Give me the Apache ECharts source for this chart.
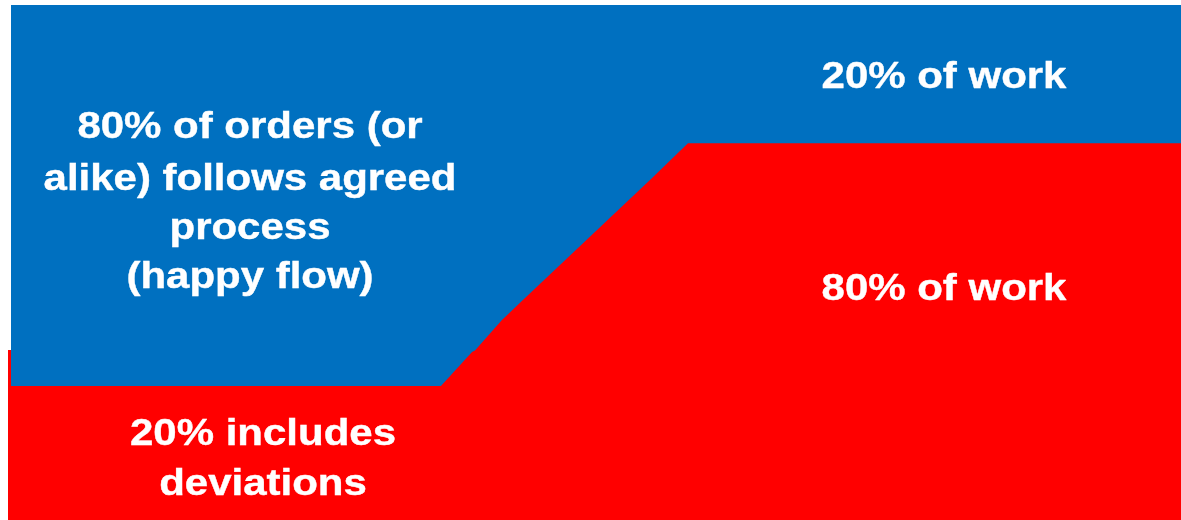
<!DOCTYPE html>
<html>
<head>
<meta charset="utf-8">
<script src="https://cdn.jsdelivr.net/npm/echarts@6/dist/echarts.min.js"></script>
<style>
html,body{margin:0;padding:0;background:#fff;}
#chart{width:1181px;height:520px;}
</style>
</head>
<body>
<div id="chart"></div>
<script>
// Top (blue) band: x in % of width, y in % of height
const blueX = [0.256, 100];
const blueY = [100, 100];
// Boundary between blue (above) and red (below)
const redX = [0, 0.256, 0.256, 36.91, 39.56, 39.81, 42.11, 43.90, 54.73, 57.97, 100];
const redY = [33.01, 33.01, 26.02, 26.02, 32.62, 32.91, 38.83, 42.72, 66.02, 73.15, 73.15];

const blueLabels = ['80% of orders (or', 'alike) follows agreed', 'process', '(happy flow)'];
const topRightLabel = '20% of work';
const bottomRightLabel = '80% of work';
const redLabels = ['20% includes', 'deviations'];

const chart = echarts.init(document.getElementById('chart'), null, {renderer: 'canvas'});

function textEl(t, x, y) {
  return {
    type: 'text', x: x, y: y, scaleX: 1.15, z: 100,
    style: {
      text: t, fill: '#ffffff', align: 'center', verticalAlign: 'middle',
      stroke: '#ffffff', lineWidth: 0.4,
      font: 'bold 36.5px "Liberation Sans", Arial, sans-serif'
    }
  };
}

const graphics = [];
const blueMid = [128, 180, 229, 278];
blueLabels.forEach((t, i) => graphics.push(textEl(t, 250, blueMid[i])));
graphics.push(textEl(topRightLabel, 944, 78));
graphics.push(textEl(bottomRightLabel, 944, 290));
const redMid = [435, 485];
redLabels.forEach((t, i) => graphics.push(textEl(t, 263, redMid[i])));

chart.setOption({
  animation: false,
  grid: {left: 8, right: 0, top: 5, bottom: 0, containLabel: false},
  xAxis: {type: 'value', min: 0, max: 100, show: false},
  yAxis: {type: 'value', min: 0, max: 100, show: false},
  series: [
    {
      type: 'line', symbol: 'none', z: 1, smooth: false,
      data: blueX.map((x, i) => [x, blueY[i]]),
      lineStyle: {width: 0},
      areaStyle: {color: '#0070C0', opacity: 1, origin: 'start'}
    },
    {
      type: 'line', symbol: 'none', z: 2, smooth: false,
      data: redX.map((x, i) => [x, redY[i]]),
      lineStyle: {width: 0},
      areaStyle: {color: '#FF0000', opacity: 1, origin: 'start'}
    }
  ],
  graphic: graphics
});
</script>
</body>
</html>
